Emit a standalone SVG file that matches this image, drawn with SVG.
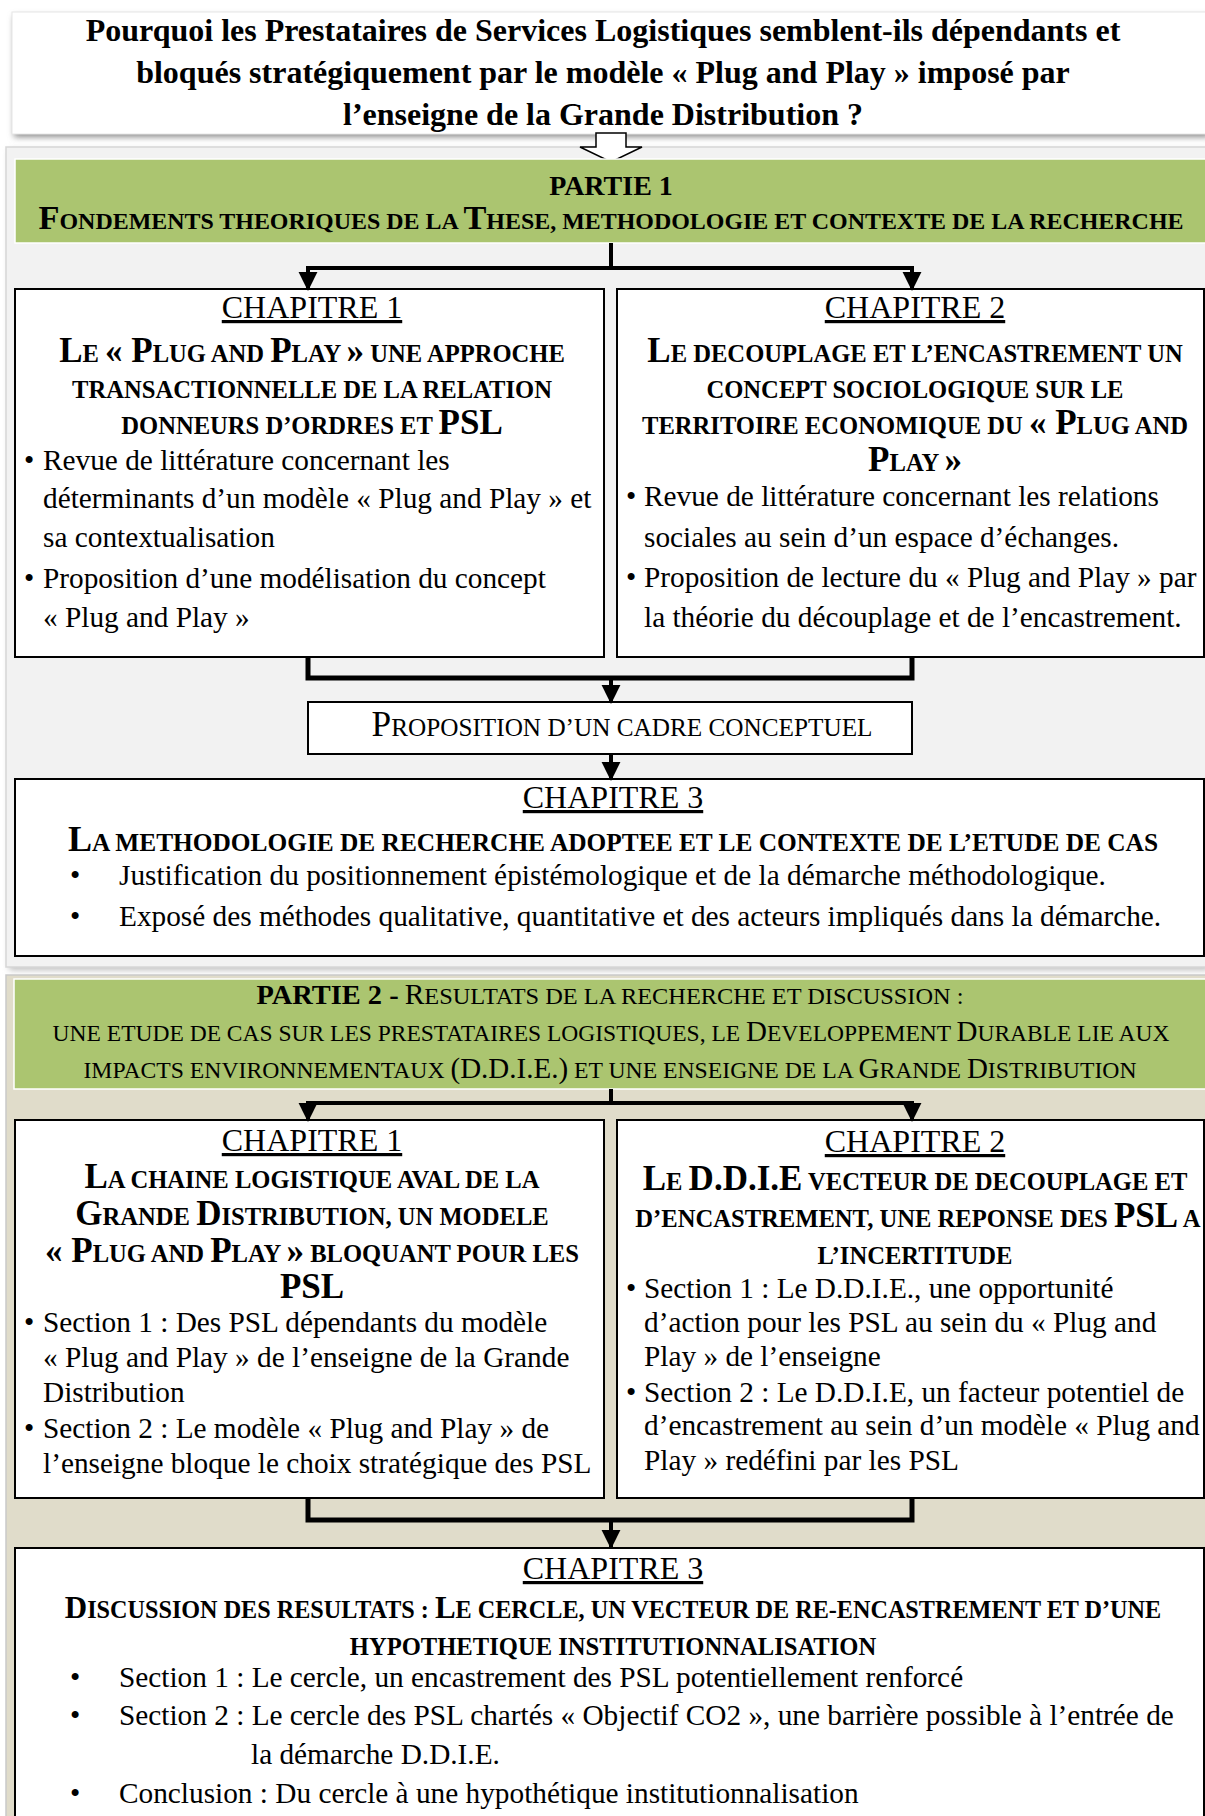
<svg xmlns="http://www.w3.org/2000/svg" width="1205" height="1816" viewBox="0 0 1205 1816">
<style>
text{font-family:"Liberation Serif","Times New Roman",serif;fill:#000}
.ttl{font-size:32px;font-weight:bold;text-anchor:middle}
.ch{font-size:32px;text-anchor:middle;text-decoration:underline}
.hd{font-size:24.6px;font-weight:bold;text-anchor:middle}
.hd .B{font-size:35px}
.bd{font-size:29.3px}
.bandb{font-size:23px;font-weight:bold;text-anchor:middle}
.bandb .B{font-size:33px}
.band{font-size:24px;text-anchor:middle}
.band .B{font-size:29px}
.pt{font-size:28px;font-weight:bold}
.box{fill:#fff;stroke:#000;stroke-width:2}
.con{fill:none;stroke:#000;stroke-width:4}
.mrg{fill:none;stroke:#000;stroke-width:5}
.arr{fill:none;stroke:#000;stroke-width:4;marker-end:url(#ah)}
</style>
<defs>
<marker id="ah" viewBox="0 0 10 10" refX="9" refY="5" markerUnits="userSpaceOnUse" markerWidth="19" markerHeight="24" orient="auto"><path d="M0,0 L10,5 L0,10 z" fill="#000"/></marker>
<filter id="sh" x="-5%" y="-20%" width="110%" height="150%"><feGaussianBlur stdDeviation="3"/></filter>
</defs>
<rect width="1205" height="1816" fill="#fff"/>

<g id="partie1-panel">
<rect x="9" y="150" width="1200" height="820" fill="#bdbdbd" filter="url(#sh)"/>
<rect x="6" y="147" width="1203" height="820" fill="#f2f2f2" stroke="#d6d6d6" stroke-width="1.5"/>
</g>
<g id="partie2-panel">
<rect x="6" y="975" width="1203" height="845" fill="#e0dcca" stroke="#c9c9c9" stroke-width="1.5"/>
</g>

<g id="title">
<rect x="14" y="16" width="1195" height="121" fill="#8a8a8a" filter="url(#sh)"/>
<rect x="12" y="12" width="1197" height="122" fill="#fff" stroke="#e6e6e6" stroke-width="1"/>
<text class="ttl" x="603" y="41">Pourquoi les Prestataires de Services Logistiques semblent-ils dépendants et</text>
<text class="ttl" x="603" y="83">bloqués stratégiquement par le modèle « Plug and Play » imposé par</text>
<text class="ttl" x="603" y="125">l’enseigne de la Grande Distribution ?</text>
</g>

<g id="main-arrow">
<polygon points="596,133 626,133 626,147 642,147 611,162 580,147 596,147" fill="#fff" stroke="#000" stroke-width="1.5"/>
</g>

<g id="partie1-band">
<rect x="15" y="159" width="1192" height="84" fill="#abc570" stroke="#fff" stroke-width="1.5"/>
<text class="pt" x="611" y="195" text-anchor="middle">PARTIE 1</text>
<text class="bandb" x="611" y="229" textLength="1145" lengthAdjust="spacingAndGlyphs"><tspan class="B">F</tspan>ONDEMENTS THEORIQUES DE LA <tspan class="B">T</tspan>HESE, METHODOLOGIE ET CONTEXTE DE LA RECHERCHE</text>
</g>

<g id="p1-chapitre1">
<rect class="box" x="15" y="289" width="589" height="368"/>
<text class="ch" x="312" y="318">CHAPITRE 1</text>
<text class="hd" x="312" y="362"><tspan class="B">L</tspan>E <tspan class="B">« P</tspan>LUG AND <tspan class="B">P</tspan>LAY <tspan class="B">»</tspan> UNE APPROCHE</text>
<text class="hd" x="312" y="398">TRANSACTIONNELLE DE LA RELATION</text>
<text class="hd" x="312" y="434">DONNEURS D’ORDRES ET <tspan class="B">PSL</tspan></text>
<text class="bd" x="24" y="470">•</text>
<text class="bd" x="43" y="470">Revue de littérature concernant les</text>
<text class="bd" x="43" y="508">déterminants d’un modèle « Plug and Play » et</text>
<text class="bd" x="43" y="547">sa contextualisation</text>
<text class="bd" x="24" y="588">•</text>
<text class="bd" x="43" y="588">Proposition d’une modélisation du concept</text>
<text class="bd" x="43" y="627">« Plug and Play »</text>
</g>

<g id="p1-chapitre2">
<rect class="box" x="617" y="289" width="587" height="368"/>
<text class="ch" x="915" y="318">CHAPITRE 2</text>
<text class="hd" x="915" y="362"><tspan class="B">L</tspan>E DECOUPLAGE ET L’ENCASTREMENT UN</text>
<text class="hd" x="915" y="398">CONCEPT SOCIOLOGIQUE SUR LE</text>
<text class="hd" x="915" y="434">TERRITOIRE ECONOMIQUE DU <tspan class="B">« P</tspan>LUG AND</text>
<text class="hd" x="915" y="471"><tspan class="B">P</tspan>LAY <tspan class="B">»</tspan></text>
<text class="bd" x="626" y="506">•</text>
<text class="bd" x="644" y="506">Revue de littérature concernant les relations</text>
<text class="bd" x="644" y="547">sociales au sein d’un espace d’échanges.</text>
<text class="bd" x="626" y="587">•</text>
<text class="bd" x="644" y="587">Proposition de lecture du « Plug and Play » par</text>
<text class="bd" x="644" y="627">la théorie du découplage et de l’encastrement.</text>
</g>

<g id="p1-cadre">
<rect class="box" x="308" y="702" width="604" height="52"/>
<text class="hd" x="622" y="736" style="font-weight:normal;font-size:25px" textLength="501" lengthAdjust="spacingAndGlyphs"><tspan class="B">P</tspan>ROPOSITION D’UN CADRE CONCEPTUEL</text>
</g>

<g id="p1-chapitre3">
<rect class="box" x="15" y="779" width="1189" height="177"/>
<text class="ch" x="613" y="808">CHAPITRE 3</text>
<text class="hd" x="613" y="851" textLength="1090" lengthAdjust="spacingAndGlyphs"><tspan class="B">L</tspan>A METHODOLOGIE DE RECHERCHE ADOPTEE ET LE CONTEXTE DE L’ETUDE DE CAS</text>
<text class="bd" x="70" y="885">•</text>
<text class="bd" x="119" y="885">Justification du positionnement épistémologique et de la démarche méthodologique.</text>
<text class="bd" x="70" y="926">•</text>
<text class="bd" x="119" y="926">Exposé des méthodes qualitative, quantitative et des acteurs impliqués dans la démarche.</text>
</g>

<g id="partie2-band">
<rect x="14" y="979" width="1192" height="110" fill="#abc570" stroke="#fff" stroke-width="1.5"/>
<text class="band" x="610" y="1004" textLength="707" lengthAdjust="spacingAndGlyphs"><tspan class="pt">PARTIE 2 -</tspan> <tspan class="B">R</tspan>ESULTATS DE LA RECHERCHE ET DISCUSSION :</text>
<text class="band" x="611" y="1041" style="font-size:23.5px">UNE ETUDE DE CAS SUR LES PRESTATAIRES LOGISTIQUES, LE <tspan class="B">D</tspan>EVELOPPEMENT <tspan class="B">D</tspan>URABLE LIE AUX</text>
<text class="band" x="610" y="1078" style="font-size:23.7px">IMPACTS ENVIRONNEMENTAUX <tspan class="B">(D.D.I.E.)</tspan> ET UNE ENSEIGNE DE LA <tspan class="B">G</tspan>RANDE <tspan class="B">D</tspan>ISTRIBUTION</text>
</g>

<g id="p2-chapitre1">
<rect class="box" x="15" y="1120" width="589" height="378"/>
<text class="ch" x="312" y="1151">CHAPITRE 1</text>
<text class="hd" x="312" y="1188"><tspan class="B">L</tspan>A CHAINE LOGISTIQUE AVAL DE LA</text>
<text class="hd" x="312" y="1225"><tspan class="B">G</tspan>RANDE <tspan class="B">D</tspan>ISTRIBUTION, UN MODELE</text>
<text class="hd" x="312" y="1262"><tspan class="B">« P</tspan>LUG AND <tspan class="B">P</tspan>LAY <tspan class="B">»</tspan> BLOQUANT POUR LES</text>
<text class="hd" x="312" y="1298"><tspan class="B">PSL</tspan></text>
<text class="bd" x="24" y="1332">•</text>
<text class="bd" x="43" y="1332">Section 1 : Des PSL dépendants du modèle</text>
<text class="bd" x="43" y="1367">« Plug and Play » de l’enseigne de la Grande</text>
<text class="bd" x="43" y="1402">Distribution</text>
<text class="bd" x="24" y="1438">•</text>
<text class="bd" x="43" y="1438">Section 2 : Le modèle « Plug and Play » de</text>
<text class="bd" x="43" y="1473">l’enseigne bloque le choix stratégique des PSL</text>
</g>

<g id="p2-chapitre2">
<rect class="box" x="617" y="1120" width="587" height="378"/>
<text class="ch" x="915" y="1152">CHAPITRE 2</text>
<text class="hd" x="915" y="1190"><tspan class="B">L</tspan>E <tspan class="B">D.D.I.E</tspan> VECTEUR DE DECOUPLAGE ET</text>
<text class="hd" x="918" y="1227">D’ENCASTREMENT, UNE REPONSE DES <tspan class="B">PSL</tspan> A</text>
<text class="hd" x="915" y="1264">L’INCERTITUDE</text>
<text class="bd" x="626" y="1298">•</text>
<text class="bd" x="644" y="1298">Section 1 : Le D.D.I.E., une opportunité</text>
<text class="bd" x="644" y="1332">d’action pour les PSL au sein du « Plug and</text>
<text class="bd" x="644" y="1366">Play » de l’enseigne</text>
<text class="bd" x="626" y="1402">•</text>
<text class="bd" x="644" y="1402">Section 2 : Le D.D.I.E, un facteur potentiel de</text>
<text class="bd" x="644" y="1435">d’encastrement au sein d’un modèle « Plug and</text>
<text class="bd" x="644" y="1470">Play » redéfini par les PSL</text>
</g>

<g id="p2-chapitre3">
<rect class="box" x="15" y="1548" width="1189" height="280"/>
<text class="ch" x="613" y="1579">CHAPITRE 3</text>
<text class="hd" x="613" y="1618" style="font-size:24.2px"><tspan class="B" style="font-size:31px">D</tspan>ISCUSSION DES RESULTATS : <tspan class="B" style="font-size:31px">L</tspan>E CERCLE, UN VECTEUR DE RE-ENCASTREMENT ET D’UNE</text>
<text class="hd" x="613" y="1655">HYPOTHETIQUE INSTITUTIONNALISATION</text>
<text class="bd" x="70" y="1687">•</text>
<text class="bd" x="119" y="1687">Section 1 : Le cercle, un encastrement des PSL potentiellement renforcé</text>
<text class="bd" x="70" y="1725">•</text>
<text class="bd" x="119" y="1725">Section 2 : Le cercle des PSL chartés « Objectif CO2 », une barrière possible à l’entrée de</text>
<text class="bd" x="251" y="1764">la démarche D.D.I.E.</text>
<text class="bd" x="70" y="1803">•</text>
<text class="bd" x="119" y="1803">Conclusion : Du cercle à une hypothétique institutionnalisation</text>
</g>

<g id="connectors">
<path class="con" d="M611,243 V268"/>
<path class="con" d="M306,268 H914"/>
<path class="arr" d="M308,268 V289"/>
<path class="arr" d="M912,268 V289"/>
<path class="mrg" d="M308,657 V678 H912 V657"/>
<path class="arr" d="M611,678 V702"/>
<path class="arr" d="M611,754 V779"/>
<path class="con" d="M611,1089 V1103"/>
<path class="con" d="M306,1103 H914"/>
<path class="arr" d="M308,1103 V1120"/>
<path class="arr" d="M912,1103 V1120"/>
<path class="mrg" d="M308,1498 V1520 H912 V1498"/>
<path class="arr" d="M611,1520 V1547"/>
</g>
</svg>
